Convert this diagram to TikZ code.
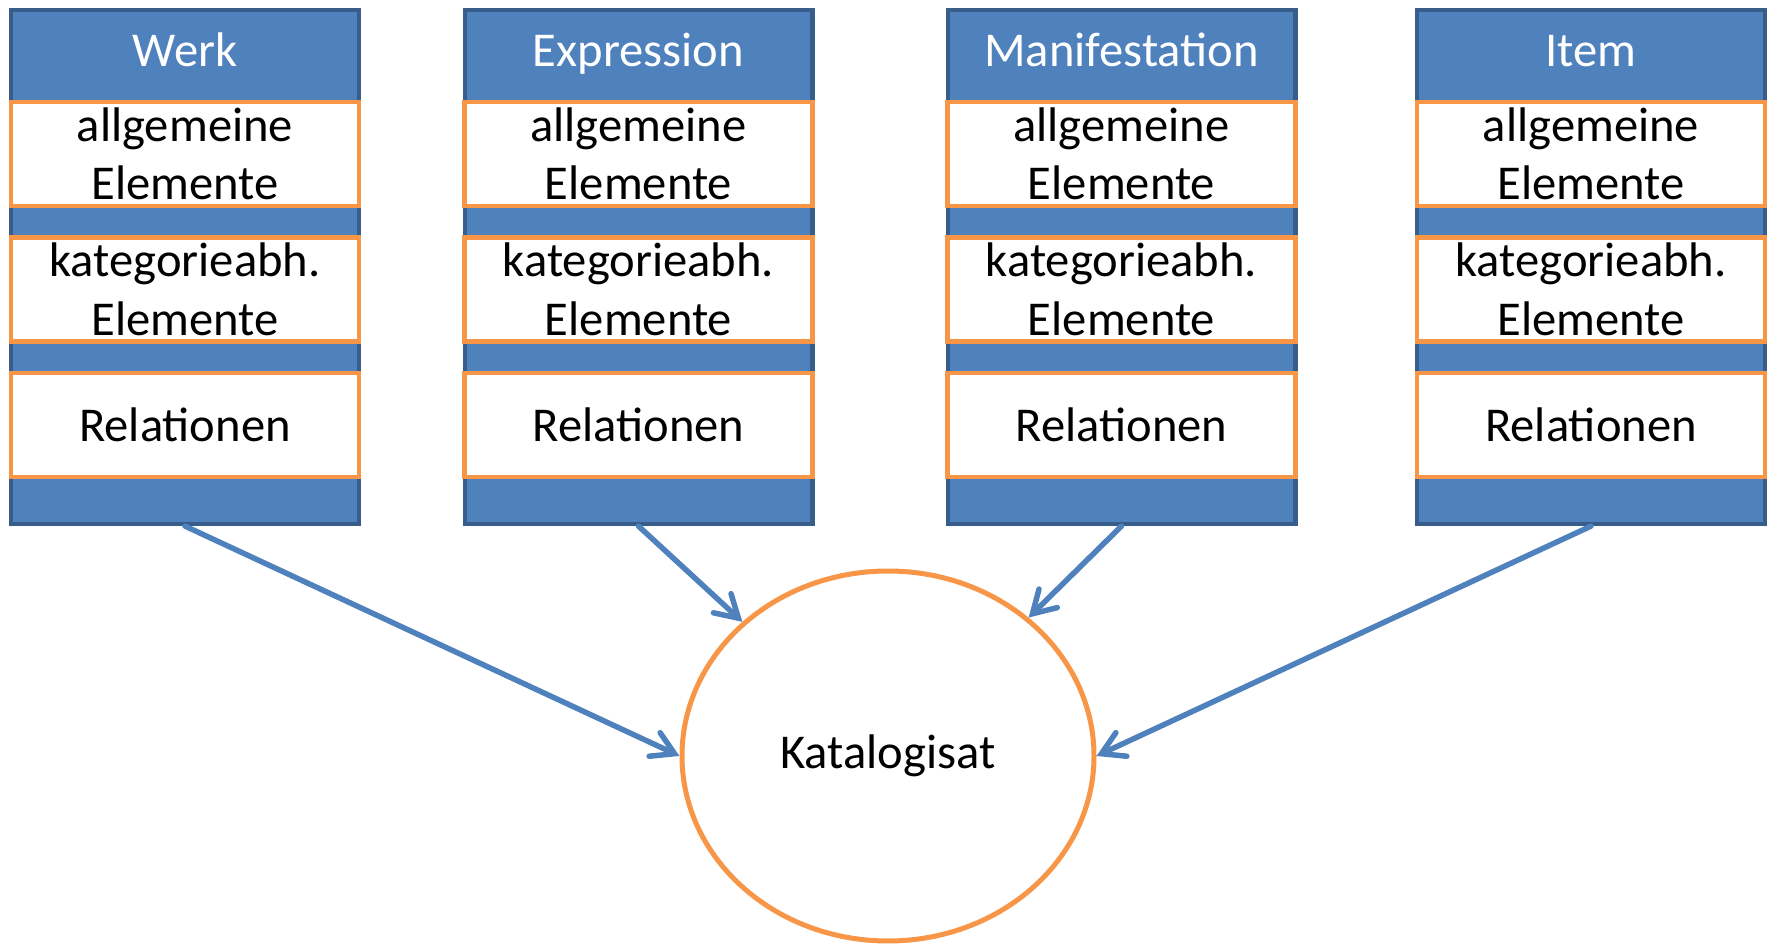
\documentclass[tikz,border=0pt]{standalone}
\usepackage{fontspec}
\setmainfont{Carlito}
\usetikzlibrary{shapes.geometric,arrows.meta}
\definecolor{frbrblue}{RGB}{79,129,189}
\definecolor{frbrdark}{RGB}{56,93,138}
\definecolor{frbrorange}{RGB}{247,150,70}

\begin{document}
\begin{tikzpicture}[x=0.5pt,y=-0.5pt,
  font=\fontsize{24.3pt}{29.2pt}\selectfont,
  column/.style={draw=frbrdark,fill=frbrblue,line width=2.1pt,minimum width=173.9pt,minimum height=257pt,inner sep=0pt},
  title/.style={text=white,inner sep=0pt,anchor=base},
  part/.style={draw=frbrorange,fill=white,line width=2.25pt,minimum width=173.8pt,minimum height=52pt,inner sep=0pt,align=center},
  link/.style={-{Straight Barb[length=11pt,width=13pt,line cap=round]},draw=frbrblue,line width=2.75pt,line cap=round}]
\useasboundingbox (0,0) rectangle (1771,945);
\node [column] (werk) at (185, 267) {};
\node [column] (expr) at (638.5, 267) {};
\node [column] (mani) at (1121.5, 267) {};
\node [column] (item) at (1591, 267) {};
\node [title] (werkT) at (185, 67) {Werk};
\node [title] (exprT) at (638.5, 67) {Expression};
\node [title] (maniT) at (1121.5, 67) {Manifestation};
\node [title] (itemT) at (1591, 67) {Item};
\node [part] (werk1) at (185, 154) {allgemeine\\Elemente};
\node [part] (expr1) at (638.5, 154) {allgemeine\\Elemente};
\node [part] (mani1) at (1121.5, 154) {allgemeine\\Elemente};
\node [part] (item1) at (1591, 154) {allgemeine\\Elemente};
\node [part] (werk2) at (185, 289.5) {kategorieabh.\\Elemente};
\node [part] (expr2) at (638.5, 289.5) {kategorieabh.\\Elemente};
\node [part] (mani2) at (1121.5, 289.5) {kategorieabh.\\Elemente};
\node [part] (item2) at (1591, 289.5) {kategorieabh.\\Elemente};
\node [part] (werk3) at (185, 425) {Relationen};
\node [part] (expr3) at (638.5, 425) {Relationen};
\node [part] (mani3) at (1121.5, 425) {Relationen};
\node [part] (item3) at (1591, 425) {Relationen};
\node [ellipse,draw=frbrorange,line width=2.5pt,minimum width=206pt,minimum height=185pt,inner sep=0pt] (kat) at (888, 756) {Katalogisat};
\draw [link] (werk.south) to (kat.west);
\draw [link] (expr.south) to (kat);
\draw [link] (mani.south) to (kat);
\draw [link] (item.south) to (kat.east);
\end{tikzpicture}
\end{document}
